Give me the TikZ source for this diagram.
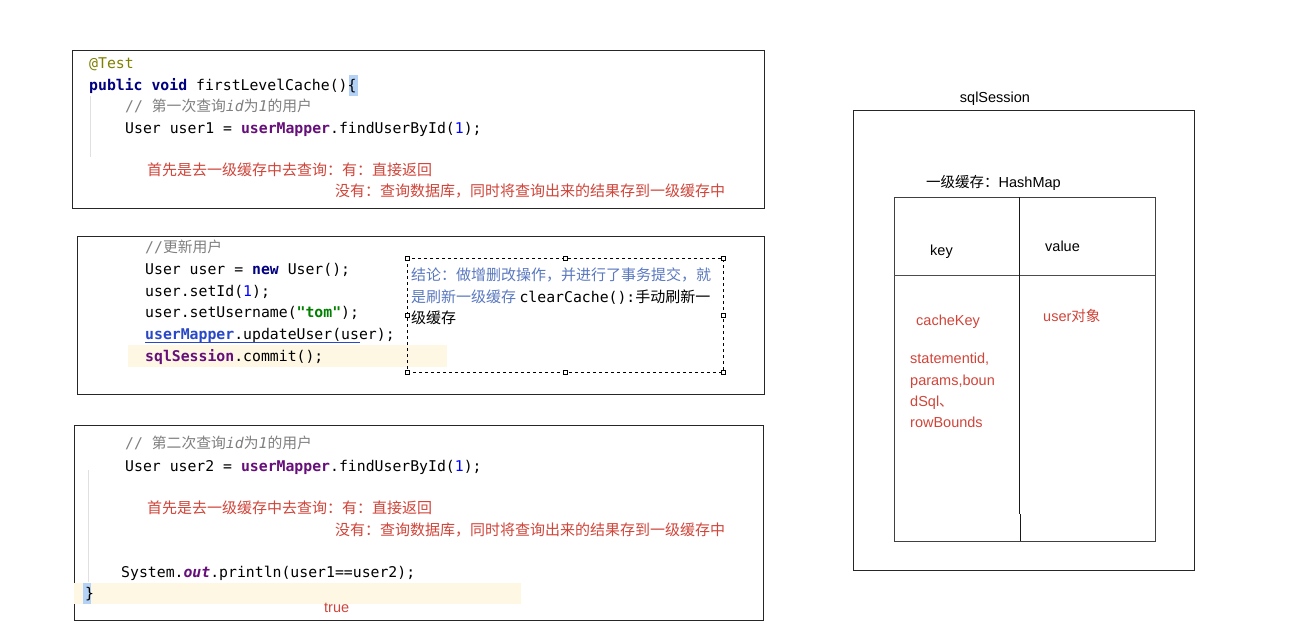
\documentclass[tikz,border=0pt]{standalone}
\usepackage{fontspec}
\setmainfont{Liberation Sans}
\setsansfont{Liberation Sans}
\setmonofont{DejaVu Sans Mono}
\newfontfamily\cjk{Noto Sans CJK SC}
\definecolor{kw}{HTML}{000080}
\definecolor{fld}{HTML}{660E7A}
\definecolor{num}{HTML}{0000FF}
\definecolor{str}{HTML}{008000}
\definecolor{cmt}{HTML}{808080}
\definecolor{ann}{HTML}{808000}
\definecolor{note}{HTML}{D0453A}
\definecolor{concl}{HTML}{5A78C0}
\definecolor{lnk}{HTML}{2848C8}
\definecolor{hl}{HTML}{FDF7E3}
\definecolor{brace}{HTML}{B3D2F5}
\definecolor{guide}{HTML}{E0E0E0}
\newcommand{\kwd}[1]{\textcolor{kw}{\bfseries #1}}
\newcommand{\fd}[1]{\textcolor{fld}{\bfseries #1}}
\newcommand{\nm}[1]{\textcolor{num}{#1}}
\tikzset{
  code/.style={anchor=base west, inner sep=0pt, font=\ttfamily\fontsize{14.8}{22}\selectfont},
  rednote/.style={anchor=base west, inner sep=0pt, text=note, font=\cjk\fontsize{15}{20}\selectfont},
  panel/.style={draw=black!85, line width=0.8pt},
  lbl/.style={anchor=base west, inner sep=0pt, font=\sffamily\fontsize{14.5}{18}\selectfont},
  handle/.style={draw=black, fill=white, line width=0.5pt, minimum size=3.5pt, inner sep=0pt}
}
\begin{document}
\begin{tikzpicture}[x=1pt,y=-1pt]
\useasboundingbox[fill=white] (0,0) rectangle (1292,643);

% ---------- box 1 ----------
\draw[panel] (72,50) rectangle (764,208);
\draw[guide, line width=0.8pt] (90,96) -- (90,157);
\fill[brace] (348.5,75) rectangle (357.5,96);
\node[code, text=ann] (t1) at (89,68) {@Test};
\node[code] (t2) at (89,90) {\kwd{public} \kwd{void} firstLevelCache()\{};
\node[code, text=cmt] (t3) at (125,111) {// {\cjk 第一次查询}\textit{id}{\cjk 为}\textit{1}{\cjk 的用户}};
\node[code] (t4) at (125,133) {User user1 = \fd{userMapper}.findUserById(\nm{1});};
\node[rednote] (t5) at (147,175) {首先是去一级缓存中去查询：有：直接返回};
\node[rednote] (t6) at (335,196) {没有：查询数据库，同时将查询出来的结果存到一级缓存中};

% ---------- box 2 ----------
\draw[panel] (77,236) rectangle (764,394);
\fill[hl] (128,345) rectangle (447,367);
\node[code, text=cmt] (u1) at (145,252) {//{\cjk 更新用户}};
\node[code] (u2) at (145,274) {User user = \kwd{new} User();};
\node[code] (u3) at (145,296) {user.setId(\nm{1});};
\node[code] (u4) at (145,317) {user.setUsername(\textcolor{str}{\bfseries"tom"});};
\node[code] (u5) at (145,339) {\textcolor{lnk}{\bfseries userMapper}.updateUser(user);};
\draw[lnk, line width=0.9pt] (145,342.5) -- (360,342.5);
\node[code] (u6) at (145,361) {\fd{sqlSession}.commit();};
% conclusion box
\draw[black, dashed, line width=0.7pt] (407,258) rectangle (723,372);
\foreach \hx/\hy [count=\i] in {407/258,565/258,723/258,407/315,723/315,407/372,565/372,723/372}
  \node[handle] (h\i) at (\hx,\hy) {};
\node[anchor=base west, inner sep=0pt, text=concl, font=\cjk\fontsize{15}{21}\selectfont] (c1) at (411,280) {结论：做增删改操作，并进行了事务提交，就};
\node[anchor=base west, inner sep=0pt, font=\cjk\fontsize{15}{21}\selectfont] (c2) at (411,302) {\textcolor{concl}{是刷新一级缓存} {\ttfamily\fontsize{14.8}{21}\selectfont clearCache():}手动刷新一};
\node[anchor=base west, inner sep=0pt, font=\cjk\fontsize{15}{21}\selectfont] (c3) at (411,323) {级缓存};

% ---------- box 3 ----------
\draw[panel] (74,425) rectangle (763,620);
\fill[hl] (74,583) rectangle (521,604);
\fill[brace] (83,583) rectangle (91,604);
\draw[guide, line width=0.8pt] (88,470) -- (88,582);
\node[code, text=cmt] (v1) at (125,448) {// {\cjk 第二次查询}\textit{id}{\cjk 为}\textit{1}{\cjk 的用户}};
\node[code] (v2) at (125,471) {User user2 = \fd{userMapper}.findUserById(\nm{1});};
\node[rednote] (v3) at (147,513) {首先是去一级缓存中去查询：有：直接返回};
\node[rednote] (v4) at (335,535) {没有：查询数据库，同时将查询出来的结果存到一级缓存中};
\node[code] (v5) at (121,577) {System.\textcolor{fld}{\bfseries\itshape out}.println(user1==user2);};
\node[code] (v6) at (85,598) {\}};
\node[lbl, text=note] (v7) at (324,612) {true};

% ---------- sqlSession ----------
\node[anchor=base, inner sep=0pt, font=\sffamily\fontsize{14.5}{18}\selectfont] (ss) at (995,102) {sqlSession};
\draw[panel] (853,110) rectangle (1194,570);
\node[lbl] (hm) at (926,187) {{\cjk 一级缓存：}HashMap};
\draw[draw=black!75, line width=0.8pt] (894,197) rectangle (1155,541);
\draw[draw=black!70, line width=0.8pt] (894,275) -- (1155,275);
\draw[draw=black!90, line width=0.8pt] (1019,197) -- (1019,514);
\draw[draw=black!90, line width=0.8pt] (1020,514) -- (1020,541);
\node[lbl] (k) at (930,255) {key};
\node[lbl] (val) at (1045,251) {value};
\node[lbl, text=note] (ck) at (916,325) {cacheKey};
\node[lbl, text=note] (uo) at (1043,321) {user{\cjk 对象}};
\node[lbl, text=note] (s1) at (910,363) {statementid,};
\node[lbl, text=note] (s2) at (910,385) {params,boun};
\node[lbl, text=note] (s3) at (910,406) {dSql{\cjk 、}};
\node[lbl, text=note] (s4) at (910,427) {rowBounds};
\end{tikzpicture}
\end{document}
